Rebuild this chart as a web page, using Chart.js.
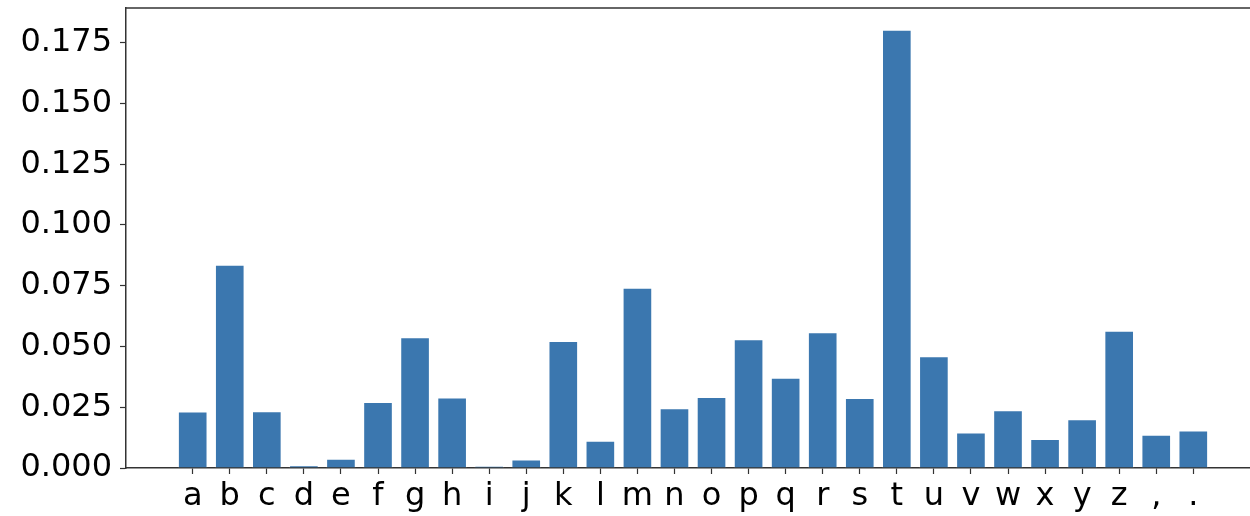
<!DOCTYPE html>
<html>
<head>
<meta charset="utf-8">
<script src="https://cdn.jsdelivr.net/npm/chart.js@4/dist/chart.umd.min.js"></script>
<style>
	html, body { margin: 0; padding: 0; background: #fff; }
	canvas { display: block; }
</style>
</head>
<body>
<canvas id="freq" width="1250" height="516"></canvas>
<script>
// character frequencies
const letters = ['a','b','c','d','e','f','g','h','i','j','k','l','m','n','o','p','q','r','s','t','u','v','w','x','y','z',',','.'];
const freqs = [0.0233, 0.0836, 0.0234, 0.0011, 0.0038, 0.0272, 0.0538, 0.0290, 0.0008, 0.0035,
	0.0523, 0.0112, 0.0742, 0.0246, 0.0292, 0.0530, 0.0371, 0.0559, 0.0288, 0.1803,
	0.0460, 0.0146, 0.0238, 0.0119, 0.0201, 0.0565, 0.0137, 0.0154];
const yTicks = [0, 0.025, 0.05, 0.075, 0.1, 0.125, 0.15, 0.175];

const spineColor = '#333333';
const barColor = '#3b77af';

Chart.defaults.font.family = 'DejaVu Sans';
Chart.defaults.font.size = 32;
Chart.defaults.color = '#000';

// top spine, the library only draws borders on the axis side
const topSpine = {
	id: 'topSpine',
	afterDraw(chart) {
		const a = chart.chartArea;
		const c = chart.ctx;
		c.save();
		c.strokeStyle = spineColor;
		c.lineWidth = 1.5;
		c.beginPath();
		c.moveTo(a.left, a.top);
		c.lineTo(chart.width, a.top);
		c.stroke();
		c.restore();
	}
};

const ctx = document.getElementById('freq').getContext('2d');
var myChart = new Chart(ctx, {
	type: 'bar',
	data: {
		datasets: [{
			data: freqs.map((v, i) => ({ x: i, y: v })),
			backgroundColor: barColor,
			borderColor: 'rgba(255,255,255,0.35)',
			borderWidth: { top: 1, left: 1, right: 1, bottom: 0 },
			categoryPercentage: 1,
			barPercentage: 0.8
		}]
	},
	options: {
		responsive: false,
		devicePixelRatio: 1,
		animation: false,
		layout: { padding: { top: 8, right: 0, left: 0, bottom: 0 } },
		plugins: {
			legend: { display: false },
			tooltip: { enabled: false }
		},
		scales: {
			x: {
				type: 'linear',
				offset: false,
				min: -1.8,
				max: 28.53,
				afterBuildTicks: (axis) => {
					axis.ticks = letters.map((_, i) => ({ value: i }));
				},
				afterFit: (axis) => {
					axis.height = 48;
					axis.paddingLeft = 0;
					axis.paddingRight = 0;
				},
				ticks: {
					autoSkip: false,
					maxRotation: 0,
					padding: 3,
					callback: (v) => letters[v]
				},
				grid: {
					offset: false,
					drawOnChartArea: false,
					drawTicks: true,
					tickLength: 6,
					tickColor: spineColor,
					tickWidth: 1.2
				},
				border: { display: true, color: spineColor, width: 1.5 }
			},
			y: {
				min: 0,
				max: 0.1893,
				afterBuildTicks: (axis) => {
					axis.ticks = yTicks.map(v => ({ value: v }));
				},
				afterFit: (axis) => {
					axis.width = 126;
					axis.paddingTop = 0;
					axis.paddingBottom = 0;
				},
				ticks: {
					padding: 8,
					callback: (v) => v.toFixed(3)
				},
				grid: {
					drawOnChartArea: false,
					drawTicks: true,
					tickLength: 6,
					tickColor: spineColor,
					tickWidth: 1.2
				},
				border: { display: true, color: spineColor, width: 1.5 }
			}
		}
	},
	plugins: [topSpine]
});
</script>
</body>
</html>
